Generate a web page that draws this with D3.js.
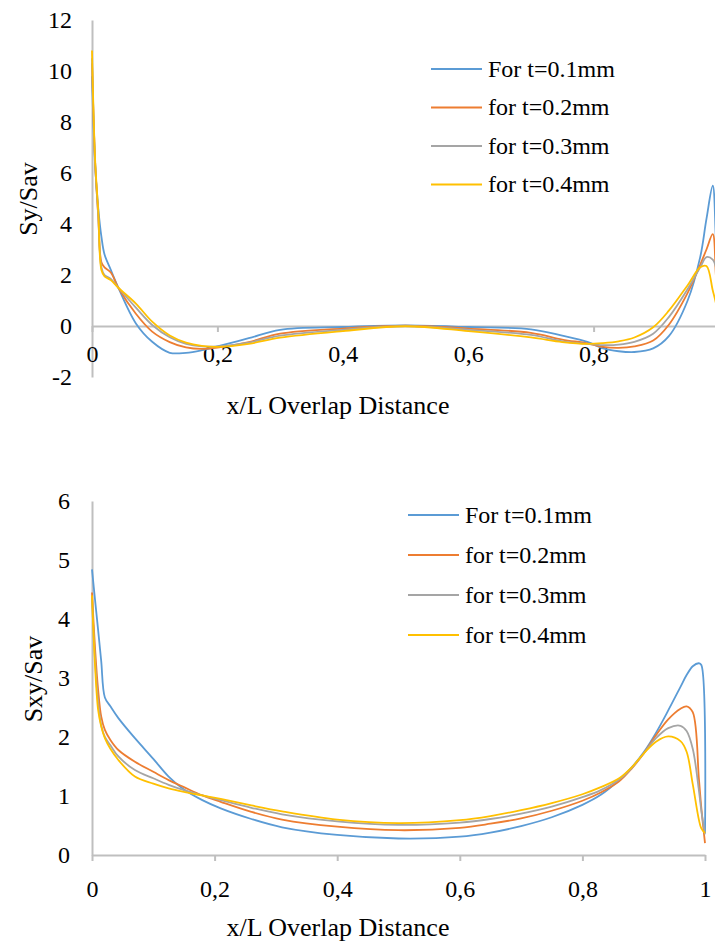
<!DOCTYPE html>
<html>

<head>
    <meta charset="utf-8">
    <style>
        body {
            margin: 0;
            background: #fff;
        }
    </style>
</head>

<body>
    <script src="https://d3js.org/d3.v7.min.js"></script>
    <div id="chart"></div>
    <script>
        const width = 715
        const height = 942
        const serif = "Liberation Serif, Times New Roman, Times, DejaVu Serif, serif"

        const seriesNames = ["For t=0.1mm", "for t=0.2mm", "for t=0.3mm", "for t=0.4mm"]
        const colors = ["#5B9BD5", "#ED7D31", "#A5A5A5", "#FFC000"]

        // top chart: Sy/Sav
        const syX = [0, 0.005, 0.01, 0.015, 0.02, 0.03, 0.042, 0.07, 0.096, 0.124, 0.15, 0.175, 0.2, 0.25, 0.3, 0.4, 0.5, 0.6, 0.7, 0.75, 0.79, 0.815, 0.84, 0.865, 0.895, 0.92, 0.95, 0.97, 0.98, 0.99, 0.995, 1.0]
        const syT1 = [9.8, 6.3, 4.6, 3.5, 2.8, 2.2, 1.5, 0.1, -0.62, -1.05, -1.05, -0.95, -0.8, -0.48, -0.15, -0.04, 0.02, -0.04, -0.13, -0.38, -0.62, -0.88, -0.99, -1.02, -0.88, -0.4, 1.0, 2.7, 4.2, 5.5, 3.4, 0.5]
        const syT2 = [10.3, 6.4, 4.3, 2.5, 2.3, 2.1, 1.5, 0.48, -0.22, -0.63, -0.84, -0.9, -0.85, -0.63, -0.3, -0.1, 0.01, -0.1, -0.27, -0.53, -0.68, -0.82, -0.86, -0.8, -0.57, 0.05, 1.3, 2.4, 3.0, 3.6, 2.0, 0.3]
        const syT3 = [10.5, 6.4, 4.3, 2.3, 2.0, 1.85, 1.5, 0.72, 0.04, -0.44, -0.7, -0.8, -0.8, -0.65, -0.38, -0.15, 0.0, -0.15, -0.35, -0.6, -0.7, -0.75, -0.73, -0.62, -0.3, 0.35, 1.45, 2.3, 2.7, 2.6, 2.3, 1.0]
        const syT4 = [10.8, 6.5, 4.5, 2.2, 1.95, 1.8, 1.5, 0.88, 0.17, -0.37, -0.65, -0.78, -0.82, -0.7, -0.46, -0.2, -0.01, -0.2, -0.45, -0.63, -0.7, -0.67, -0.6, -0.45, -0.05, 0.6, 1.6, 2.3, 2.35, 1.4, 0.9, 0.2]
        const syTicks = [-2, 0, 2, 4, 6, 8, 10, 12]

        // bottom chart: Sxy/Sav
        const sxyX = [0, 0.005, 0.01, 0.015, 0.021, 0.03, 0.043, 0.07, 0.1, 0.125, 0.15, 0.18, 0.21, 0.26, 0.31, 0.4, 0.5, 0.6, 0.65, 0.7, 0.75, 0.8, 0.83, 0.86, 0.88, 0.9, 0.92, 0.94, 0.96, 0.97, 0.98, 0.99, 0.994, 1.0]
        const sxyT1 = [4.84, 4.32, 3.81, 3.29, 2.67, 2.52, 2.32, 1.98, 1.63, 1.33, 1.11, 0.93, 0.79, 0.61, 0.47, 0.34, 0.28, 0.31, 0.38, 0.49, 0.64, 0.85, 1.02, 1.27, 1.48, 1.74, 2.07, 2.45, 2.85, 3.05, 3.2, 3.25, 3.22, 0.37]
        const sxyT2 = [4.45, 3.5, 2.8, 2.35, 2.12, 1.95, 1.78, 1.58, 1.41, 1.27, 1.15, 1.01, 0.9, 0.73, 0.6, 0.48, 0.42, 0.46, 0.53, 0.62, 0.75, 0.92, 1.06, 1.25, 1.46, 1.72, 2.03, 2.3, 2.48, 2.52, 2.42, 1.3, 0.8, 0.2]
        const sxyT3 = [4.35, 3.3, 2.58, 2.2, 2.0, 1.86, 1.67, 1.44, 1.3, 1.19, 1.1, 1.01, 0.93, 0.8, 0.69, 0.57, 0.51, 0.55, 0.61, 0.7, 0.82, 0.98, 1.1, 1.28, 1.47, 1.72, 1.98, 2.15, 2.19, 2.1, 1.8, 1.1, 0.75, 0.35]
        const sxyT4 = [4.4, 3.2, 2.46, 2.18, 1.98, 1.8, 1.61, 1.33, 1.21, 1.13, 1.07, 1.01, 0.95, 0.84, 0.74, 0.6, 0.54, 0.59, 0.66, 0.76, 0.88, 1.03, 1.15, 1.3, 1.48, 1.72, 1.92, 2.01, 1.93, 1.75, 1.2, 0.6, 0.45, 0.37]
        const sxyTicks = [0, 1, 2, 3, 4, 5, 6]

        const xTicks = [0, 0.2, 0.4, 0.6, 0.8, 1]
        const formatX = d => d === 0 || d === 1 ? String(d) : d3.format(".1f")(d).replace(".", ",")
        const formatY = d => String(d)   // keeps the plain hyphen for -2

        const svg = d3.select("#chart").append("svg")
            .attr("width", width)
            .attr("height", height)
            .attr("font-family", serif)

        const drawChart = (opts) => {
            const g = svg.append("g")
            const x = d3.scaleLinear().domain([0, 1]).range(opts.xRange)
            const y = d3.scaleLinear().domain(opts.yDomain).range(opts.yRange)

            // y axis: line + labels, no tick marks
            const yAxis = g.append("g")
                .attr("transform", "translate(" + opts.xRange[0] + ",0)")
                .call(d3.axisLeft(y).tickValues(opts.yTicks).tickFormat(formatY).tickSize(0).tickPadding(opts.yPad))
            yAxis.select(".domain").attr("stroke", "#BFBFBF").attr("stroke-width", 2)

            // x axis sits at value 0
            const xAxis = g.append("g")
                .attr("transform", "translate(0," + y(0) + ")")
                .call(d3.axisBottom(x).tickValues(opts.xTicks).tickFormat(formatX)
                    .tickSize(6).tickSizeOuter(0).tickPadding(opts.xPad))
            xAxis.select(".domain").attr("stroke", "#BFBFBF").attr("stroke-width", 2)
            xAxis.selectAll("line").attr("stroke", "#BFBFBF").attr("stroke-width", 2)

            yAxis.attr("font-family", serif).attr("font-size", 24)
            xAxis.attr("font-family", serif).attr("font-size", 24)
            g.selectAll("g text").attr("fill", "#000")

            const line = d3.line()
                .x((d, i) => x(opts.xs[i]))
                .y(d => y(d))
                .curve(d3.curveCatmullRom.alpha(0.5))

            opts.series.forEach((vals, i) => {
                g.append("path")
                    .attr("d", line(vals))
                    .attr("fill", "none")
                    .attr("stroke", colors[i])
                    .attr("stroke-width", 1.8)
            })

            // legend
            seriesNames.forEach((name, i) => {
                const ly = opts.legend.y + i * opts.legend.step
                g.append("line")
                    .attr("x1", opts.legend.x)
                    .attr("x2", opts.legend.x + 51)
                    .attr("y1", ly)
                    .attr("y2", ly)
                    .attr("stroke", colors[i])
                    .attr("stroke-width", 2)
                g.append("text")
                    .attr("x", opts.legend.x + 57)
                    .attr("y", ly)
                    .attr("dy", "0.33em")
                    .attr("font-size", 24)
                    .text(name)
            })

            g.append("text")
                .attr("transform", "translate(" + opts.yTitle.x + "," + opts.yTitle.y + ") rotate(-90)")
                .attr("text-anchor", "middle")
                .attr("dy", "0.33em")
                .attr("font-size", 26)
                .text(opts.yTitle.text)

            g.append("text")
                .attr("x", opts.xTitle.x)
                .attr("y", opts.xTitle.y)
                .attr("text-anchor", "middle")
                .attr("dy", "0.33em")
                .attr("font-size", 26)
                .text("x/L Overlap Distance")
        }

        drawChart({
            xs: syX,
            series: [syT1, syT2, syT3, syT4],
            xRange: [92, 719],
            yDomain: [-2, 12],
            yRange: [377, 20],
            yTicks: syTicks,
            xTicks: [0, 0.2, 0.4, 0.6, 0.8],
            yPad: 20,
            xPad: 13,
            legend: { x: 431, y: 69, step: 38.5 },
            yTitle: { x: 28, y: 199, text: "Sy/Sav" },
            xTitle: { x: 338, y: 405 }
        })

        drawChart({
            xs: sxyX,
            series: [sxyT1, sxyT2, sxyT3, sxyT4],
            xRange: [92, 705],
            yDomain: [0, 6],
            yRange: [855, 501],
            yTicks: sxyTicks,
            xTicks: xTicks,
            yPad: 22,
            xPad: 19,
            legend: { x: 408, y: 515, step: 40 },
            yTitle: { x: 33, y: 679, text: "Sxy/Sav" },
            xTitle: { x: 338, y: 927 }
        })
    </script>
</body>

</html>
